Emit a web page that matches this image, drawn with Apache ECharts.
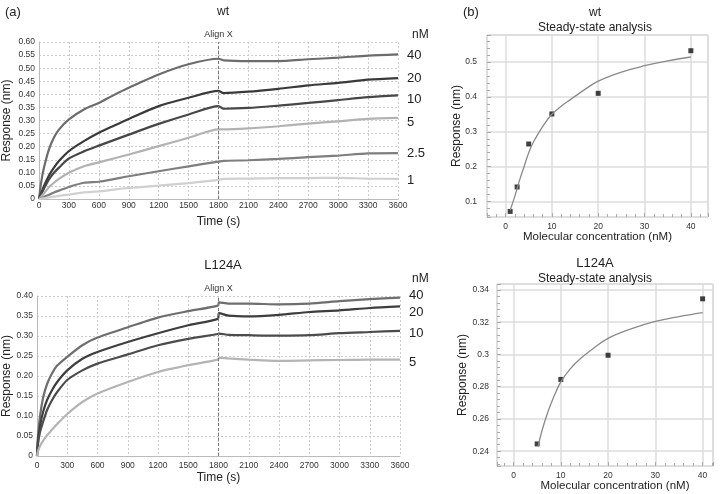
<!DOCTYPE html>
<html>
<head>
<meta charset="utf-8">
<script src="https://cdn.jsdelivr.net/npm/echarts@6/dist/echarts.min.js"></script>
<style>
  html, body { margin: 0; background: #fff; }
  #chart { width: 720px; height: 494px; }
</style>
</head>
<body>
<div id="chart"></div>
<script>
// --- (a) wt association / dissociation traces ---
const wtTime = [0, 20, 50, 100, 150, 200, 300, 450, 600, 750, 900, 1200, 1500, 1800, 1850, 2100, 2400, 2700, 3000, 3300, 3600];
const wt40 = [0, 0.06, 0.12, 0.19, 0.235, 0.265, 0.304, 0.342, 0.367, 0.397, 0.425, 0.476, 0.515, 0.536, 0.530, 0.527, 0.527, 0.534, 0.540, 0.548, 0.553];
const wt20 = [0, 0.02, 0.05, 0.09, 0.12, 0.145, 0.183, 0.221, 0.253, 0.280, 0.306, 0.355, 0.387, 0.413, 0.405, 0.410, 0.421, 0.434, 0.444, 0.456, 0.462];
const wt10 = [0, 0.015, 0.04, 0.075, 0.10, 0.12, 0.155, 0.182, 0.204, 0.225, 0.246, 0.287, 0.323, 0.355, 0.345, 0.348, 0.357, 0.367, 0.378, 0.389, 0.396];
const wt5 = [0, 0.008, 0.022, 0.045, 0.062, 0.077, 0.100, 0.125, 0.140, 0.155, 0.170, 0.202, 0.234, 0.266, 0.266, 0.270, 0.278, 0.288, 0.297, 0.306, 0.310];
const wt2_5 = [0, 0.003, 0.008, 0.016, 0.025, 0.032, 0.046, 0.062, 0.066, 0.076, 0.087, 0.106, 0.125, 0.143, 0.146, 0.148, 0.153, 0.160, 0.166, 0.174, 0.175];
const wt1 = [0, 0.001, 0.003, 0.006, 0.009, 0.012, 0.017, 0.025, 0.029, 0.036, 0.042, 0.051, 0.061, 0.073, 0.077, 0.078, 0.080, 0.080, 0.081, 0.078, 0.077];

// --- (a) L124A traces ---
const mutTime = [0, 10, 30, 60, 100, 150, 200, 300, 450, 600, 900, 1200, 1500, 1795, 1805, 1900, 2100, 2400, 2700, 3000, 3300, 3600];
const mut40 = [0, 0.05, 0.10, 0.145, 0.18, 0.207, 0.226, 0.248, 0.277, 0.296, 0.322, 0.346, 0.362, 0.376, 0.384, 0.381, 0.381, 0.379, 0.381, 0.387, 0.392, 0.396];
const mut20 = [0, 0.04, 0.075, 0.11, 0.14, 0.165, 0.185, 0.214, 0.243, 0.260, 0.285, 0.307, 0.327, 0.343, 0.357, 0.351, 0.349, 0.353, 0.360, 0.364, 0.370, 0.374];
const mut10 = [0, 0.03, 0.06, 0.085, 0.115, 0.14, 0.16, 0.19, 0.214, 0.231, 0.254, 0.277, 0.293, 0.305, 0.306, 0.303, 0.302, 0.301, 0.302, 0.307, 0.310, 0.313];
const mut5 = [0, 0.012, 0.025, 0.038, 0.052, 0.066, 0.08, 0.105, 0.135, 0.156, 0.185, 0.210, 0.227, 0.241, 0.246, 0.244, 0.241, 0.238, 0.239, 0.240, 0.241, 0.241];

// --- (b) steady-state analysis ---
const wtConc = [1, 2.5, 5, 10, 20, 40];
const wtResp = [0.072, 0.142, 0.265, 0.351, 0.41, 0.532];
const wtFitX = [1, 2, 3, 4, 5, 6, 8, 10, 12, 14, 17, 20, 25, 30, 35, 40];
const wtFitY = [0.075, 0.115, 0.16, 0.2, 0.24, 0.27, 0.315, 0.35, 0.373, 0.392, 0.42, 0.445, 0.471, 0.489, 0.503, 0.514];

const mutConc = [5, 10, 20, 40];
const mutResp = [0.2445, 0.2845, 0.2995, 0.3345];
const mutFitX = [5.2, 6, 7, 8, 9, 10, 12, 14, 17, 20, 25, 30, 35, 40];
const mutFitY = [0.243, 0.2525, 0.262, 0.27, 0.277, 0.283, 0.291, 0.297, 0.304, 0.310, 0.316, 0.3205, 0.3235, 0.326];

const FONT = 'Liberation Sans';
const zip = (xs, ys) => xs.map((x, i) => [x, ys[i]]);

const chart = echarts.init(document.getElementById('chart'));

function trace(name, xs, ys, color, idx, labelDy, withAlign) {
  const s = {
    type: 'line', name: name, xAxisIndex: idx, yAxisIndex: idx,
    data: zip(xs, ys), showSymbol: false, smooth: 0.25,
    lineStyle: { color: color, width: 2.2 },
    itemStyle: { color: color },
    endLabel: { show: true, formatter: name, distance: 9, offset: [0, labelDy || 0],
      fontSize: 13, color: '#222', fontFamily: FONT },
    z: 3
  };
  if (withAlign) {
    s.markLine = {
      silent: true, symbol: 'none',
      lineStyle: { type: [3, 2], color: '#777', width: 1 },
      label: { show: true, formatter: 'Align X', position: 'end', fontSize: 9, color: '#333', fontFamily: FONT, distance: 3 },
      data: [{ xAxis: 1800 }]
    };
  }
  return s;
}

const kinX = (idx) => ({
  gridIndex: idx, type: 'value', min: 0, max: 3600, interval: 300,
  name: 'Time (s)', nameLocation: 'middle', nameGap: idx === 0 ? 17 : 16, nameMoveOverlap: false,
  nameTextStyle: { fontSize: 12, color: '#222', fontFamily: FONT },
  axisLine: { show: true, onZero: false, lineStyle: { color: '#bbb' } },
  axisTick: { show: false },
  axisLabel: { fontSize: 8.5, color: '#333', margin: idx === 0 ? 2 : 5, fontFamily: FONT,
    formatter: v => String(v) },
  splitLine: { show: true, lineStyle: { color: '#ccc', type: [2, 2] } }
});
const kinY = (idx, max) => ({
  gridIndex: idx, type: 'value', min: 0, max: max, interval: 0.05,
  name: 'Response (nm)', nameLocation: 'middle', nameGap: idx === 0 ? 26 : 24, nameMoveOverlap: false,
  nameTextStyle: { fontSize: 12, color: '#222', fontFamily: FONT },
  axisLine: { show: true, onZero: false, lineStyle: { color: '#bbb' } },
  axisTick: { show: false },
  axisLabel: { fontSize: 8.5, color: '#333', margin: 4, fontFamily: FONT,
    formatter: v => v === 0 ? '0' : v.toFixed(2) },
  splitLine: { show: true, lineStyle: { color: '#ccc', type: [2, 2] } }
});
const ssX = (idx, min, max, nameGap, pad) => ({
  gridIndex: idx, type: 'value', min: min, max: max, splitNumber: 5,
  name: 'Molecular concentration (nM)', nameLocation: 'middle', nameGap: nameGap, nameMoveOverlap: false,
  nameTextStyle: { fontSize: 11.5, color: '#222', fontFamily: FONT, padding: pad },
  axisLine: { show: false, onZero: false },
  axisTick: { show: true, inside: true, length: 4, lineStyle: { color: '#aaa' } },
  minorTick: { show: true, splitNumber: 5, length: 3, lineStyle: { color: '#aaa' } },
  axisLabel: { fontSize: 8.5, color: '#333', margin: 5, showMinLabel: false, showMaxLabel: false, fontFamily: FONT },
  splitLine: { show: true, lineStyle: { color: '#ddd', width: 1.5 } }
});
const ssY = (idx, min, max, nameGap, margin) => ({
  gridIndex: idx, type: 'value', min: min, max: max, splitNumber: 5,
  name: 'Response (nm)', nameLocation: 'middle', nameGap: nameGap, nameMoveOverlap: false,
  nameTextStyle: { fontSize: 12, color: '#222', fontFamily: FONT },
  axisLine: { show: false, onZero: false },
  axisTick: { show: true, inside: true, length: 4, lineStyle: { color: '#aaa' } },
  minorTick: { show: true, splitNumber: 5, length: 3, lineStyle: { color: '#aaa' } },
  axisLabel: { fontSize: 8.5, color: '#333', margin: margin, showMinLabel: false, showMaxLabel: false, fontFamily: FONT },
  splitLine: { show: true, lineStyle: { color: '#ddd', width: 1.5 } }
});

const txt = (text, left, top, size, align) => ({
  text: text, left: left, top: top, textAlign: align || 'center',
  textStyle: { fontSize: size, fontWeight: 'normal', color: '#222', fontFamily: FONT }
});

const option = {
  animation: false,
  backgroundColor: '#fff',
  title: [
    txt('(a)', 0, 1, 13, 'left'),
    txt('wt', 218, 1, 12),
    txt('nM', 407, 24, 12, 'left'),
    txt('L124A', 218, 254, 13),
    txt('nM', 407, 268, 12, 'left'),
    txt('(b)', 458, 1, 13, 'left'),
    txt('wt', 590, 2, 12),
    txt('Steady-state analysis', 590, 17, 12),
    txt('L124A', 590, 252, 13),
    txt('Steady-state analysis', 590, 268, 12)
  ],
  grid: [
    { left: 39, top: 42, width: 359, height: 157, outerBoundsMode: 'none' },
    { left: 37, top: 296, width: 363, height: 160, outerBoundsMode: 'none' },
    { left: 487, top: 35, width: 221, height: 182, show: true, borderColor: '#c8c8c8', borderWidth: 1, outerBoundsMode: 'none' },
    { left: 497, top: 284, width: 216, height: 182, show: true, borderColor: '#c8c8c8', borderWidth: 1, outerBoundsMode: 'none' }
  ],
  xAxis: [
    kinX(0), kinX(1),
    ssX(2, -4, 43.7, 14, [0, 0, 0, 0]),
    ssX(3, -3.5, 42.2, 14, [0, 0, 0, 20])
  ],
  yAxis: [
    kinY(0, 0.6), kinY(1, 0.4),
    ssY(2, 0.056, 0.577, 24, 10),
    ssY(3, 0.2308, 0.3437, 28, 8)
  ],
  series: [
    trace('40', wtTime, wt40, '#6c6c6c', 0, 1, true),
    trace('20', wtTime, wt20, '#3a3a3a', 0, 0),
    trace('10', wtTime, wt10, '#474747', 0, 4),
    trace('5', wtTime, wt5, '#b2b2b2', 0, 5),
    trace('2.5', wtTime, wt2_5, '#7e7e7e', 0, 0),
    trace('1', wtTime, wt1, '#d0d0d0', 0, 2),
    trace('40', mutTime, mut40, '#6e6e6e', 1, -2, true),
    trace('20', mutTime, mut20, '#3e3e3e', 1, 6),
    trace('10', mutTime, mut10, '#4c4c4c', 1, 3),
    trace('5', mutTime, mut5, '#b4b4b4', 1, 3),
    {
      type: 'line', xAxisIndex: 2, yAxisIndex: 2, data: zip(wtFitX, wtFitY),
      showSymbol: false, smooth: 0.4, lineStyle: { color: '#8a8a8a', width: 1.3 }
    },
    {
      type: 'scatter', xAxisIndex: 2, yAxisIndex: 2, data: zip(wtConc, wtResp),
      symbol: 'rect', symbolSize: 5, itemStyle: { color: '#111' }, clip: false
    },
    {
      type: 'line', xAxisIndex: 3, yAxisIndex: 3, data: zip(mutFitX, mutFitY),
      showSymbol: false, smooth: 0.4, lineStyle: { color: '#8a8a8a', width: 1.3 }
    },
    {
      type: 'scatter', xAxisIndex: 3, yAxisIndex: 3, data: zip(mutConc, mutResp),
      symbol: 'rect', symbolSize: 5, itemStyle: { color: '#111' }, clip: false
    }
  ]
};

chart.setOption(option);
</script>
</body>
</html>
